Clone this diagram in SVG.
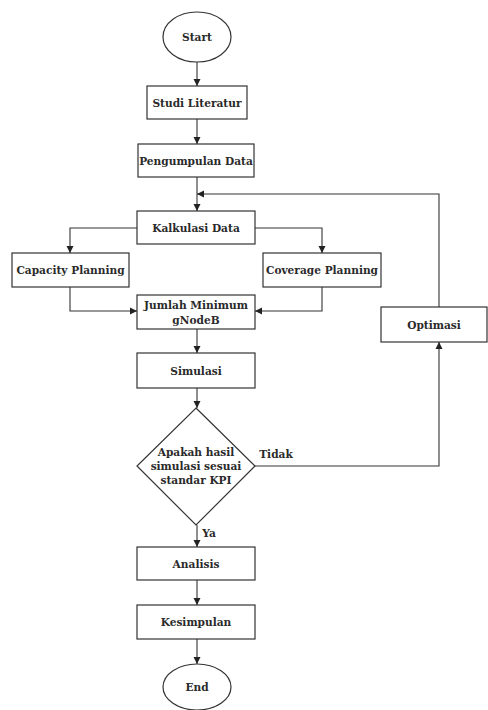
<svg xmlns="http://www.w3.org/2000/svg" width="488" height="710" viewBox="0 0 488 710">
<style>
.s{fill:#fff;stroke:#333;stroke-width:1.2}
.c{fill:none;stroke:#333;stroke-width:1.1}
text{font-family:"DejaVu Serif","Liberation Serif",serif;font-weight:bold;font-size:10.6px;fill:#2a2a2a;text-anchor:middle;dominant-baseline:central}
</style>
<defs>
<marker id="a" markerWidth="8" markerHeight="8" refX="7" refY="4" orient="auto" markerUnits="userSpaceOnUse">
<path d="M0,0.5 L7,4 L0,7.5 Z" fill="#222"/>
</marker>
</defs>
<rect width="488" height="710" fill="#fff"/>
<g id="connectors">
<path class="c" d="M197,62 V86" marker-end="url(#a)"/>
<path class="c" d="M197,119 V144" marker-end="url(#a)"/>
<path class="c" d="M197,177 V211" marker-end="url(#a)"/>
<path class="c" d="M439,307 V194 H197" marker-end="url(#a)"/>
<path class="c" d="M137,228 H70 V253" marker-end="url(#a)"/>
<path class="c" d="M255,228 H322 V253" marker-end="url(#a)"/>
<path class="c" d="M70,287 V311 H137" marker-end="url(#a)"/>
<path class="c" d="M322,287 V311 H255" marker-end="url(#a)"/>
<path class="c" d="M197,329 V353" marker-end="url(#a)"/>
<path class="c" d="M197,388 V408" marker-end="url(#a)"/>
<path class="c" d="M255,466 H439 V342" marker-end="url(#a)"/>
<path class="c" d="M197,525 V547" marker-end="url(#a)"/>
<path class="c" d="M197,580 V605" marker-end="url(#a)"/>
<path class="c" d="M197,639 V664" marker-end="url(#a)"/>
<text x="276" y="454">Tidak</text>
<text x="209" y="533">Ya</text>
</g>
<g id="start"><ellipse class="s" cx="197" cy="37" rx="34" ry="25"/><text x="197" y="37">Start</text></g>
<g id="studi"><rect class="s" x="147" y="86" width="100" height="33"/><text x="197" y="102.5">Studi Literatur</text></g>
<g id="pengumpulan"><rect class="s" x="138" y="144" width="116" height="33"/><text x="196" y="160.5">Pengumpulan Data</text></g>
<g id="kalkulasi"><rect class="s" x="137" y="211" width="118" height="33"/><text x="196" y="227.5">Kalkulasi Data</text></g>
<g id="capacity"><rect class="s" x="12" y="253" width="117" height="34"/><text x="70.5" y="270">Capacity Planning</text></g>
<g id="coverage"><rect class="s" x="263" y="253" width="118" height="34"/><text x="322" y="270">Coverage Planning</text></g>
<g id="jumlah"><rect class="s" x="137" y="295" width="118" height="34"/><text x="196" y="305">Jumlah Minimum</text><text x="196" y="320">gNodeB</text></g>
<g id="simulasi"><rect class="s" x="137" y="353" width="118" height="35"/><text x="196" y="370.5">Simulasi</text></g>
<g id="decision"><path class="s" d="M196,408 L255,466 L196,525 L137,466 Z"/><text x="196" y="452">Apakah hasil</text><text x="196" y="466">simulasi sesuai</text><text x="196" y="480">standar KPI</text></g>
<g id="optimasi"><rect class="s" x="381" y="307" width="106" height="35"/><text x="434" y="324.5">Optimasi</text></g>
<g id="analisis"><rect class="s" x="137" y="547" width="118" height="33"/><text x="196" y="563.5">Analisis</text></g>
<g id="kesimpulan"><rect class="s" x="137" y="605" width="118" height="34"/><text x="196" y="622">Kesimpulan</text></g>
<g id="end"><ellipse class="s" cx="197" cy="687" rx="34" ry="23"/><text x="197" y="687">End</text></g>
</svg>
